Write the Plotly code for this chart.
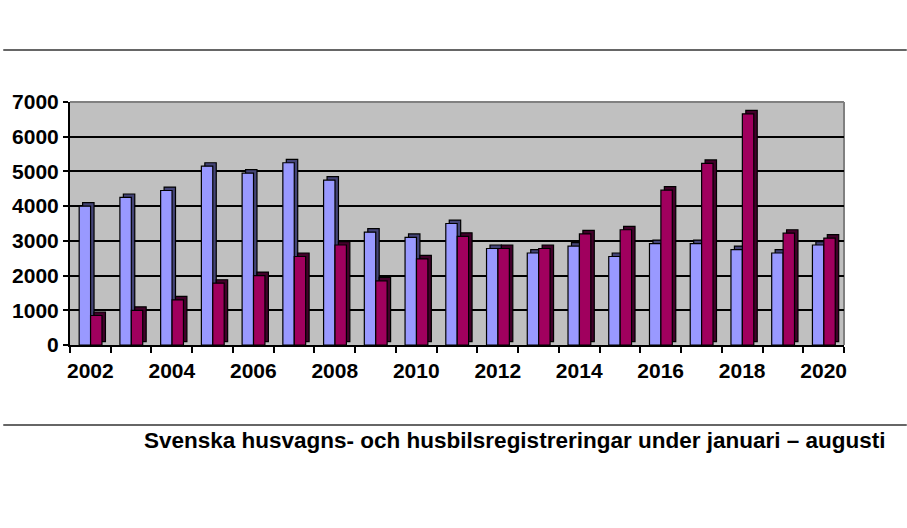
import plotly.graph_objects as go

years = list(range(2002, 2021))
husvagnar = [4000, 4250, 4450, 5150, 4950, 5250, 4750, 3250, 3100, 3500,
             2780, 2650, 2850, 2550, 2920, 2920, 2750, 2650, 2880]
husbilar = [850, 1000, 1300, 1780, 2000, 2550, 2880, 1850, 2480, 3130,
            2780, 2780, 3200, 3320, 4460, 5230, 6660, 3220, 3080]
y_ticks = [0, 1000, 2000, 3000, 4000, 5000, 6000, 7000]
x_ticks = list(range(2002, 2021, 2))
title_text = "Svenska husvagns- och husbilsregistreringar under januari – augusti"

W, H = 907, 528
L, R, T, B = 67, 63, 102, 183
PW = W - L - R
PH = H - T - B

BAR_W = 0.28
DEPTH_X = 0.085
DEPTH_Y = 100

blue_front = "#9999FF"
blue_side = "#444477"
red_front = "#A0005E"
red_side = "#42002A"
outline = dict(color="black", width=1.2)

fig = go.Figure()
# depth (side / top faces)
fig.add_trace(go.Bar(x=years, y=husvagnar, base=DEPTH_Y, width=BAR_W,
                     offset=-0.275 + DEPTH_X, marker=dict(color=blue_side, line=outline),
                     showlegend=False, hoverinfo="skip"))
fig.add_trace(go.Bar(x=years, y=husbilar, base=DEPTH_Y, width=BAR_W,
                     offset=0.005 + DEPTH_X, marker=dict(color=red_side, line=outline),
                     showlegend=False, hoverinfo="skip"))
# front faces
fig.add_trace(go.Bar(x=years, y=husvagnar, width=BAR_W, offset=-0.275,
                     marker=dict(color=blue_front, line=outline),
                     name="Husvagnar", showlegend=False))
fig.add_trace(go.Bar(x=years, y=husbilar, width=BAR_W, offset=0.005,
                     marker=dict(color=red_front, line=outline),
                     name="Husbilar", showlegend=False))

font_lbl = dict(family="Liberation Sans, Arial, sans-serif", size=21, color="black")

fig.update_layout(
    width=W, height=H,
    margin=dict(l=L, r=R, t=T, b=B, pad=0),
    barmode="overlay",
    paper_bgcolor="white",
    plot_bgcolor="#C0C0C0",
    xaxis=dict(
        range=[2001.5, 2020.5],
        tickmode="array", tickvals=x_ticks, ticktext=[str(v) for v in x_ticks],
        ticks="outside", ticklen=6, tickcolor="rgba(0,0,0,0)",
        minor=dict(tick0=2001.5, dtick=1, ticks="outside", ticklen=6,
                   tickcolor="black", tickwidth=2, showgrid=False),
        showgrid=False, zeroline=False,
        showline=True, linecolor="black", linewidth=2,
        tickfont=dict(font_lbl, weight="bold"),
    ),
    yaxis=dict(
        range=[0, 7000],
        tickmode="array", tickvals=y_ticks,
        ticks="outside", ticklen=5, tickcolor="black", tickwidth=2,
        showgrid=True, gridcolor="black", gridwidth=1.5,
        zeroline=False,
        showline=True, linecolor="black", linewidth=2,
        tickfont=dict(font_lbl, weight="bold"),
    ),
    shapes=[
        dict(type="line", xref="paper", yref="paper",
             x0=-L / PW, x1=1 + R / PW, y0=(H - B - 50) / PH, y1=(H - B - 50) / PH,
             line=dict(color="#666666", width=2)),
        dict(type="line", xref="paper", yref="paper",
             x0=-L / PW, x1=1 + R / PW, y0=(H - B - 425) / PH, y1=(H - B - 425) / PH,
             line=dict(color="#666666", width=2)),
        dict(type="line", xref="paper", yref="paper",
             x0=0, x1=1, y0=1, y1=1, line=dict(color="#808080", width=2), layer="below"),
        dict(type="line", xref="paper", yref="paper",
             x0=1, x1=1, y0=0, y1=1, line=dict(color="#808080", width=2), layer="below"),
    ],
    annotations=[
        dict(text="<b>" + title_text + "</b>", xref="paper", yref="paper",
             x=(887 - L) / PW, y=(H - B - 440) / PH,
             xanchor="right", yanchor="middle", showarrow=False,
             font=dict(family="Liberation Sans, Arial, sans-serif", size=22.5, color="black")),
    ],
)

fig.write_html("out.html",
               config={"displayModeBar": False},
               post_script="document.body.style.margin='0';document.body.style.overflow='hidden';")
